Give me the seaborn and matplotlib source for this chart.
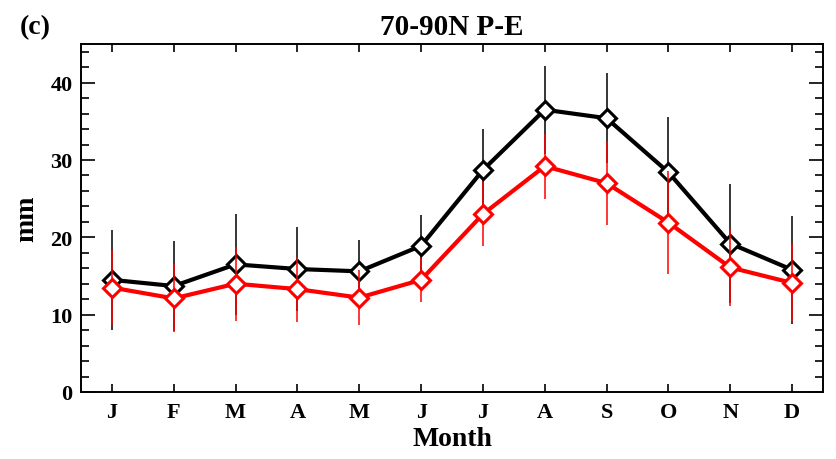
import matplotlib
matplotlib.use("Agg")
import matplotlib.pyplot as plt
import seaborn as sns
import numpy as np
import pandas as pd
from matplotlib.ticker import MultipleLocator

months = ["J", "F", "M", "A", "M", "J", "J", "A", "S", "O", "N", "D"]
black_vals = [14.5, 13.7, 16.5, 15.9, 15.6, 18.9, 28.7, 36.5, 35.4, 28.4, 19.2, 15.8]
black_err = [6.5, 5.8, 6.5, 5.4, 4.0, 4.0, 5.3, 5.7, 5.8, 7.2, 7.7, 7.0]
red_vals = [13.5, 12.1, 14.0, 13.3, 12.2, 14.5, 23.0, 29.2, 27.0, 21.9, 16.1, 14.1]
red_err = [4.8, 4.4, 4.8, 4.2, 3.6, 2.8, 4.1, 4.2, 5.4, 6.7, 5.0, 5.0]

sns.set_style("ticks")
plt.rcParams['font.family'] = ['Liberation Serif', 'DejaVu Serif']
plt.rcParams['font.weight'] = 'bold'
for k in ['text.color', 'axes.labelcolor', 'xtick.color', 'ytick.color', 'axes.edgecolor']:
    plt.rcParams[k] = 'black'

idx = np.arange(len(months))
fig = plt.figure(figsize=(8.37, 4.6), dpi=100)
ax = fig.add_axes([0.0968, 0.1457, 0.8865, 0.7565])

for vals, errs, col in [(black_vals, black_err, 'black'), (red_vals, red_err, 'red')]:
    ax.errorbar(idx, vals, yerr=errs, fmt='none', ecolor=col, elinewidth=1.1, capsize=0)
    df = pd.DataFrame({'x': idx, 'y': vals})
    sns.lineplot(data=df, x='x', y='y', ax=ax, color=col, linewidth=3, marker='D',
                 markersize=9.5, markerfacecolor='white', markeredgecolor=col,
                 markeredgewidth=2.2)

ax.set_xlim(-0.5, 11.5)
ax.set_ylim(0, 45)
ax.set_xticks(idx)
ax.set_xticklabels(months)
ax.yaxis.set_major_locator(MultipleLocator(10))
ax.yaxis.set_minor_locator(MultipleLocator(2))
ax.tick_params(axis='both', which='both', direction='in', top=True, right=True,
               width=1.2, labelsize=16, color='black', labelcolor='black')
ax.tick_params(axis='x', which='major', length=6, pad=7)
ax.tick_params(axis='y', which='major', length=10, pad=6)
ax.tick_params(axis='y', which='minor', length=5.5)
for lab in ax.get_xticklabels() + ax.get_yticklabels():
    lab.set_fontweight('bold')
for s in ax.spines.values():
    s.set_linewidth(1.4)
    s.set_color('black')

ax.set_xlabel("Month", fontsize=20, fontweight='bold', labelpad=3)
ax.set_ylabel("mm", fontsize=20, fontweight='bold', labelpad=8)
ax.set_title("70-90N P-E", fontsize=21, fontweight='bold', pad=7)
fig.text(20 / 837, 1 - 34 / 460, "(c)", fontsize=20, fontweight='bold')

fig.savefig("out.png", dpi=100)
